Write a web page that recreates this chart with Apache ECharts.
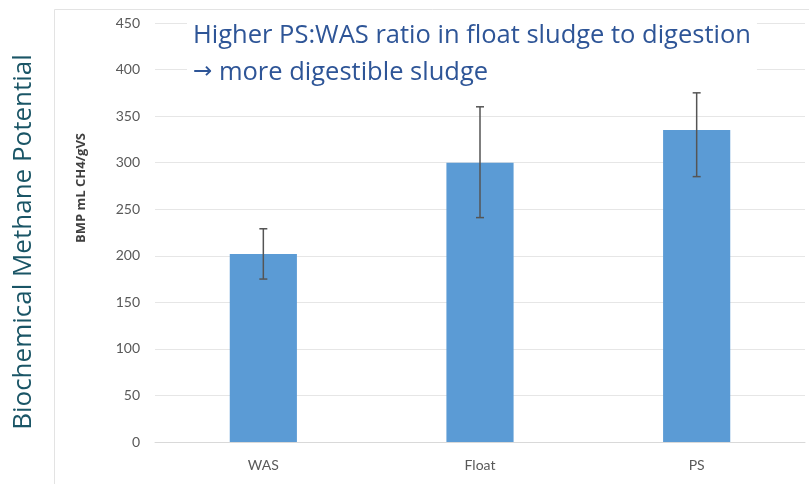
<!DOCTYPE html>
<html>
<head>
<meta charset="utf-8">
<script src="https://cdn.jsdelivr.net/npm/echarts@6/dist/echarts.min.js"></script>
<style>
  html, body { margin: 0; padding: 0; background: #fff; }
  #main { width: 809px; height: 484px; }
</style>
</head>
<body>
<div id="main"></div>
<script>
// data
var categories = ["WAS", "Float", "PS"];
var bmpValues = [202, 300, 335];
var errLow = [175, 241, 285];
var errHigh = [229, 360, 375];
var yTicks = { min: 0, max: 450, interval: 50 };

var chart = echarts.init(document.getElementById("main"));

var errData = categories.map(function (c, i) { return [i, errLow[i], errHigh[i]]; });

var option = {
  animation: false,
  backgroundColor: "#fff",
  grid: { left: 155, right: 4, top: 23, bottom: 42 },
  graphic: [
    // outer frame of the pasted chart
    { type: "rect", shape: { x: 54.5, y: 9.5, width: 760, height: 480 },
      style: { fill: null, stroke: "#e3e3e3", lineWidth: 1 }, z: 0 },
    { type: "text", x: 24, y: 242, rotation: Math.PI / 2,
      style: { text: "Biochemical Methane Potential", fill: "#1a5566",
        font: '26px "Open Sans", sans-serif', align: "center", verticalAlign: "middle" }, z: 10 },
    { type: "text", x: 81, y: 188, rotation: Math.PI / 2,
      style: { text: "BMP mL CH4/gVS", fill: "#404040",
        font: 'bold 13px "Open Sans", sans-serif', align: "center", verticalAlign: "middle" }, z: 10 },
    { type: "text", left: 187, top: 17,
      style: { text: "Higher PS:WAS ratio in float sludge to digestion\n{arr|\u2192} more digestible sludge",
        fill: "#2e5597", font: '25.5px "Open Sans", sans-serif', lineHeight: 37,
        rich: { arr: { fill: "#2e5597", font: '23px "DejaVu Sans", sans-serif', lineHeight: 37 } },
        backgroundColor: "#fff", padding: [0, 6, 0, 6] }, z: 10 }
  ],
  xAxis: {
    type: "category",
    data: categories,
    axisLine: { lineStyle: { color: "#d9d9d9" } },
    axisTick: { show: false },
    axisLabel: { color: "#595959", fontSize: 14, margin: 16, fontFamily: "Lato" }
  },
  yAxis: {
    type: "value",
    min: yTicks.min, max: yTicks.max, interval: yTicks.interval,
    axisLine: { show: false },
    axisTick: { show: false },
    splitLine: { lineStyle: { color: "#e6e6e6" } },
    axisLabel: { color: "#595959", fontSize: 14, margin: 15, fontFamily: "Lato" }
  },
  series: [
    {
      type: "bar",
      data: bmpValues,
      barWidth: "31%",
      itemStyle: { color: "#5b9bd5" }
    },
    {
      type: "custom",
      data: errData,
      z: 5,
      renderItem: function (params, api) {
        var x = api.coord([api.value(0), 0])[0];
        var lo = api.coord([api.value(0), api.value(1)])[1];
        var hi = api.coord([api.value(0), api.value(2)])[1];
        var w = 4;
        var st = { stroke: "#555", lineWidth: 1.5 };
        return {
          type: "group",
          children: [
            { type: "line", shape: { x1: x, y1: lo, x2: x, y2: hi }, style: st },
            { type: "line", shape: { x1: x - w, y1: lo, x2: x + w, y2: lo }, style: st },
            { type: "line", shape: { x1: x - w, y1: hi, x2: x + w, y2: hi }, style: st }
          ]
        };
      }
    }
  ]
};

chart.setOption(option);
</script>
</body>
</html>
